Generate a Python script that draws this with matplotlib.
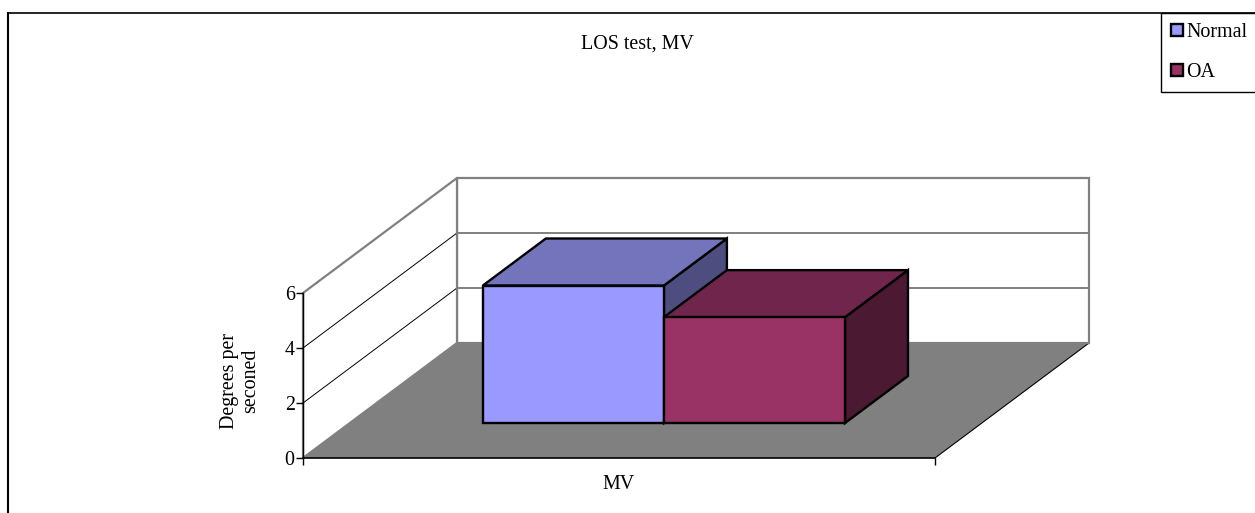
import matplotlib
matplotlib.use("Agg")
import matplotlib.pyplot as plt
from matplotlib.patches import Polygon, Patch
from matplotlib.lines import Line2D

categories = ["MV"]
series = ["Normal", "OA"]
values = [5.0, 3.85]
y_ticks = [0, 2, 4, 6]
y_max = 6

front_colors = ["#9999FF", "#993366"]
top_colors = ["#7474BC", "#70264C"]
side_colors = ["#4D4D80", "#4C1933"]

plt.rcParams["font.family"] = ["Liberation Serif", "DejaVu Serif"]
plt.rcParams["font.size"] = 14.4

W, H = 1255, 513
fig = plt.figure(figsize=(W / 100, H / 100), dpi=100)
fig.patch.set_facecolor("white")

# front plane of the 3d box; depth is faked with an oblique offset
ax = fig.add_axes([303 / W, (H - 458) / H, 632 / W, 165 / H])
ax.set_xlim(0, 1)
ax.set_ylim(0, y_max)
ax.patch.set_visible(False)

DX = 154 / 632          # x shift per unit depth (axes units)
DY = 115 / 165 * y_max  # y shift per unit depth (value units)


def proj(x, y, t):
    return (x + DX * t, y + DY * t)


def face(pts, z, **kw):
    ax.add_patch(Polygon([proj(*p) for p in pts], closed=True, clip_on=False,
                         zorder=z, joinstyle="miter", **kw))


def seg(p, q, z, **kw):
    a, b = proj(*p), proj(*q)
    ax.add_line(Line2D([a[0], b[0]], [a[1], b[1]], clip_on=False, zorder=z, **kw))


# floor, back wall, side wall
face([(0, 0, 0), (1, 0, 0), (1, 0, 1), (0, 0, 1)], 1, facecolor="#808080", edgecolor="none")
seg((1, 0, 0), (1, 0, 1), 1.1, color="black", lw=0.8)
face([(0, 0, 1), (1, 0, 1), (1, y_max, 1), (0, y_max, 1)], 1.2,
     facecolor="white", edgecolor="#808080", lw=1.6)
face([(0, 0, 0), (0, 0, 1), (0, y_max, 1), (0, y_max, 0)], 1.2,
     facecolor="white", edgecolor="#808080", lw=1.6)
for v in y_ticks[1:-1]:
    seg((0, v, 0), (0, v, 1), 1.3, color="black", lw=0.7)
    seg((0, v, 1), (1, v, 1), 1.3, color="#808080", lw=1.4)

# bars, side by side across the category
gap = 0.2105
bar_w = 0.2865
t0, t1 = 0.304, 0.713
for i, v in enumerate(values):
    x0 = gap + i * bar_w
    x1 = x0 + bar_w
    z = 3 + i
    kw = dict(edgecolor="black", lw=1.7)
    face([(x1, 0, t0), (x1, 0, t1), (x1, v, t1), (x1, v, t0)], z, facecolor=side_colors[i], **kw)
    face([(x0, v, t0), (x1, v, t0), (x1, v, t1), (x0, v, t1)], z, facecolor=top_colors[i], **kw)
    face([(x0, 0, t0), (x1, 0, t0), (x1, v, t0), (x0, v, t0)], z, facecolor=front_colors[i], **kw)

# axes
for s in ["top", "right"]:
    ax.spines[s].set_visible(False)
ax.spines["left"].set_linewidth(1.0)
ax.spines["bottom"].set_linewidth(1.2)
ax.set_yticks(y_ticks)
ax.tick_params(axis="y", direction="out", length=5, width=1, pad=1)
ax.set_xticks([0, 1])
ax.set_xticklabels(["", ""])
ax.tick_params(axis="x", which="major", direction="out", length=5, width=1)
ax.set_xticks([0.5], labels=categories, minor=True)
ax.tick_params(axis="x", which="minor", length=0, pad=12)

fig.text(637 / W, 1 - 49 / H, "LOS test, MV", ha="center", va="baseline")
fig.text(240 / W, 1 - 381 / H, "Degrees per\nseconed", ha="center", va="center",
         rotation=90, multialignment="center", linespacing=1.1)

# chart frame
fig.add_artist(Line2D([8 / W, 8 / W], [0, 1 - 13 / H], color="black", lw=1.5))
fig.add_artist(Line2D([8 / W, 1], [1 - 13 / H, 1 - 13 / H], color="black", lw=1.2))

handles = [Patch(facecolor=c, edgecolor="black", lw=1.7) for c in front_colors]
leg = fig.legend(handles, series, loc="upper left", bbox_to_anchor=(1161 / W, 1 - 13 / H),
                 frameon=True, fancybox=False, edgecolor="black", framealpha=1,
                 borderpad=0.5, borderaxespad=0, handlelength=0.6, handleheight=0.6,
                 handletextpad=0.15, labelspacing=1.05)
leg.get_frame().set_linewidth(1.0)

fig.savefig("out.png", dpi=100)
